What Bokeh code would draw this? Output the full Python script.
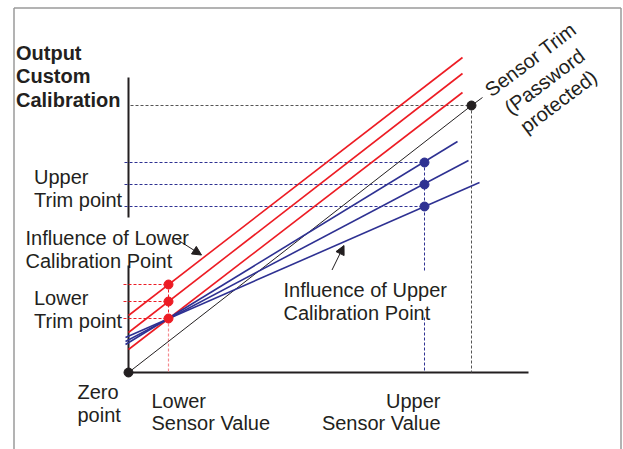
import math
from bokeh.plotting import figure
from bokeh.models import Range1d, Arrow, NormalHead
from bokeh.core.properties import value
from bokeh.embed import file_html
from bokeh.resources import INLINE

# ---------------- data (diagram units: sensor input on x, output on y) ----------------
lower_sensor_x = 40
upper_sensor_x = 296
trim_x = 343
trim_y = 267
lower_trim_y = [88, 71, 54]          # red calibration points at the lower sensor value
upper_trim_y = [210, 188, 166]       # blue calibration points at the upper sensor value
red_line_x = [0, 334]
red_line_y_start = [57, 40, 23]
red_line_y_end = [315, 299, 280]
blue_line_x_start = -3
blue_line_y_start = [28, 31, 35]
blue_line_x_end = [329, 340, 351]
blue_line_y_end = [231, 212, 190]
x_axis_end = 400
y_axis_top = 295

title_lines = ["Output", "Custom", "Calibration"]
upper_trim_lines = ["Upper", "Trim point"]
lower_trim_lines = ["Lower", "Trim point"]
lower_influence_lines = ["Influence of Lower", "Calibration Point"]
upper_influence_lines = ["Influence of Upper", "Calibration Point"]
zero_lines = ["Zero", "point"]
lower_sensor_lines = ["Lower", "Sensor Value"]
upper_sensor_lines = ["Upper", "Sensor Value"]
sensor_trim_lines = ["Sensor Trim", "(Password", "protected)"]

RED = "#ed1c24"
PINK = "#f58a8f"
BLUE = "#2e3192"
INK = "#231f20"
GRAY = "#555555"
FONT = value("Liberation Sans")
FS = "20px"

p = figure(width=623, height=449, x_range=Range1d(-128, 495), y_range=Range1d(-77, 372),
           output_backend="svg", toolbar_location=None, min_border=0,
           x_axis_location=None, y_axis_location=None)
p.grid.visible = False
p.outline_line_color = None
p.background_fill_color = "white"


def px(x, y):
    """reference pixel -> diagram units"""
    return x - 128, 372 - y


# outer frame
fx0, fy0 = px(13.5, 7.5)
fx1, _ = px(620.5, 0)
p.multi_line(xs=[[fx0, fx0], [fx0, fx1], [fx1, fx1]],
             ys=[[-77, fy0], [fy0, fy0], [fy0, -77]], line_color="#9a9a9a", line_width=1.5)

# axes (y axis interrupted by the label)
p.segment(x0=[0], y0=[0], x1=[x_axis_end], y1=[0], line_color=INK, line_width=2)
p.segment(x0=[0, 0], y0=[0, 155], x1=[0, 0], y1=[107, y_axis_top], line_color=INK, line_width=2)

# sensor trim guide lines
p.segment(x0=[2], y0=[trim_y], x1=[trim_x], y1=[trim_y], line_color=GRAY, line_dash="3 2", line_width=1)
p.segment(x0=[trim_x], y0=[trim_y], x1=[trim_x], y1=[0], line_color=GRAY, line_dash="3 2", line_width=1)

# lower calibration guides
n = len(lower_trim_y)
p.segment(x0=[-5] * n, y0=lower_trim_y, x1=[lower_sensor_x] * n, y1=lower_trim_y,
          line_color=RED, line_dash="3 2", line_width=1)
p.segment(x0=[lower_sensor_x], y0=[max(lower_trim_y)], x1=[lower_sensor_x], y1=[min(lower_trim_y)],
          line_color=RED, line_dash="3 2", line_width=1)
p.segment(x0=[lower_sensor_x], y0=[min(lower_trim_y)], x1=[lower_sensor_x], y1=[0],
          line_color=PINK, line_dash="3 2", line_width=1.2)

# upper calibration guides
m = len(upper_trim_y)
p.segment(x0=[-4] * m, y0=upper_trim_y, x1=[upper_sensor_x] * m, y1=upper_trim_y,
          line_color=BLUE, line_dash="3 2", line_width=1)
p.segment(x0=[upper_sensor_x, upper_sensor_x], y0=[max(upper_trim_y), 55],
          x1=[upper_sensor_x, upper_sensor_x], y1=[102, 0],
          line_color=BLUE, line_dash="3 2", line_width=1)

# sensor trim line
p.line([0, trim_x, 354], [0, trim_y, 275], line_color=INK, line_width=1)

# red lines (lower calibration point)
p.multi_line(xs=[red_line_x] * n, ys=[[a, b] for a, b in zip(red_line_y_start, red_line_y_end)],
             line_color=RED, line_width=1.6)
# blue lines (upper calibration point)
p.multi_line(xs=[[blue_line_x_start, e] for e in blue_line_x_end],
             ys=[[a, b] for a, b in zip(blue_line_y_start, blue_line_y_end)],
             line_color=BLUE, line_width=1.6)

# points
p.scatter([lower_sensor_x] * n, lower_trim_y, size=9, color=RED)
p.scatter([upper_sensor_x] * m, upper_trim_y, size=9, color=BLUE)
p.scatter([0, trim_x], [0, trim_y], size=9, color=INK)

# arrows
ax0, ay0 = px(175, 238)
ax1, ay1 = px(201, 254.5)
p.add_layout(Arrow(x_start=ax0, y_start=ay0, x_end=ax1, y_end=ay1, line_width=1, line_color=INK,
                   end=NormalHead(size=9, fill_color=INK, line_color=INK)))
bx0, by0 = px(331.5, 269.5)
bx1, by1 = px(343.5, 245)
p.add_layout(Arrow(x_start=bx0, y_start=by0, x_end=bx1, y_end=by1, line_width=1, line_color=INK,
                   end=NormalHead(size=9, fill_color=INK, line_color=INK)))


def label(lines, x, y0, step=22.7, align="left", bold=False):
    xs, ys = [], []
    for i, _ in enumerate(lines):
        dx, dy = px(x, y0 + i * step)
        xs.append(dx)
        ys.append(dy)
    p.text(xs, ys, text=lines, text_font=FONT, text_font_size=FS, text_color=INK,
           text_align=align, text_baseline="alphabetic",
           text_font_style="bold" if bold else "normal")


label(title_lines, 15.5, 52.5, step=23.3, bold=True)
label(upper_trim_lines, 33.5, 176.7)
label(lower_influence_lines, 25, 237.3)
label(lower_trim_lines, 33.5, 297.3)
label(zero_lines, 77, 391.7)
label(lower_sensor_lines, 151, 400)
label(upper_sensor_lines, 440, 400, align="right")
label(upper_influence_lines, 283, 289.3)

# rotated sensor trim label
ang = math.radians(37)
centers = [px(530, 59), px(544, 81), px(558, 101)]
p.text([c[0] for c in centers], [c[1] for c in centers], text=sensor_trim_lines,
       angle=ang, text_font=FONT, text_font_size=FS, text_color=INK,
       text_align="center", text_baseline="middle")

open("out.html", "w").write(file_html(p, INLINE))
